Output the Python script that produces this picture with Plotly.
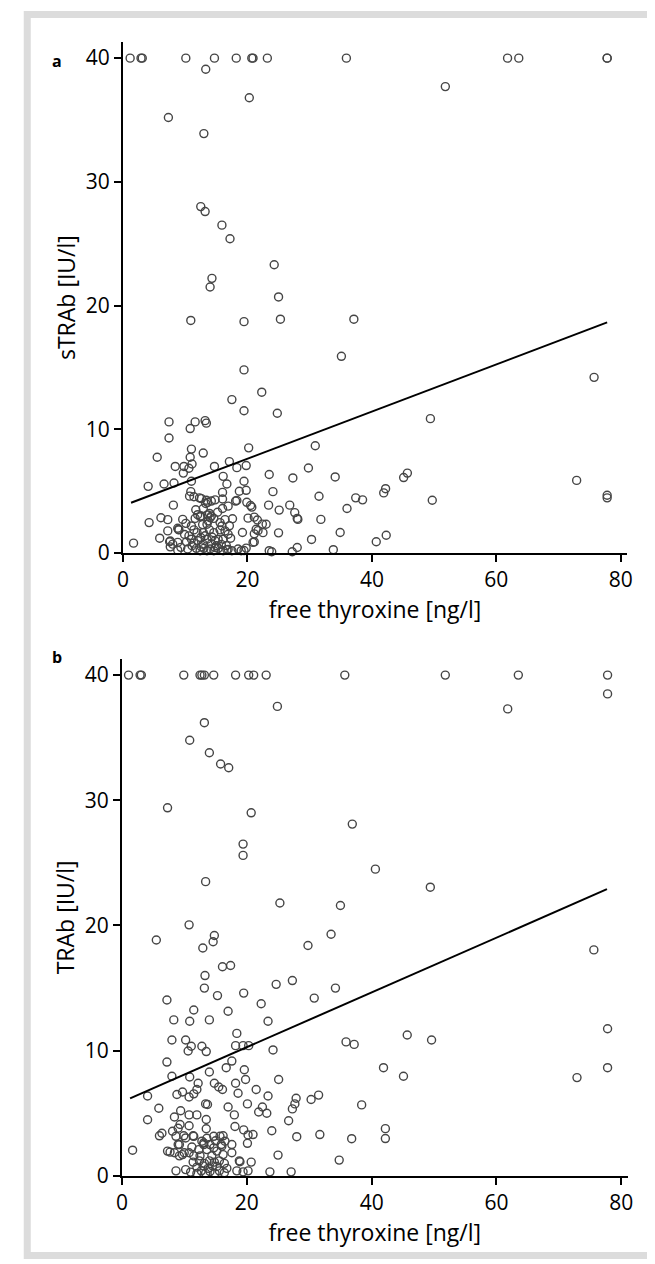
import plotly.graph_objects as go

W, H = 655, 1264

# ---------------- Panel a : sTRAb vs free thyroxine ----------------
a_x = [1.15, 2.9, 3.1, 10.1, 14.7, 18.2, 20.7, 20.9, 23.2, 35.9, 61.8, 63.6, 77.8, 77.8,
       13.3, 20.3, 7.3, 13.0, 51.8, 12.5, 13.2, 15.9, 17.2, 24.3, 14.3, 14.0, 25.0,
       10.9, 19.45, 25.3, 37.1, 35.1, 19.45, 22.3, 17.5, 19.45, 24.8, 7.4, 11.6, 13.2, 13.4, 10.8,
       7.4, 20.2, 30.9, 11.0, 12.9, 5.5, 10.8, 17.1, 8.4, 9.8, 11.1, 10.6, 14.7, 19.8, 18.3, 29.8,
       9.7, 23.5, 27.3, 34.1, 16.1, 16.7, 11.0, 19.45, 4.05, 6.6, 8.2, 19.8, 18.7, 24.1, 10.9,
       42.2, 41.9, 12.3, 13.4, 13.6, 14.8, 16.0, 18.1, 18.3, 19.9, 31.5, 37.4, 38.5, 23.4, 26.8,
       20.7, 25.1, 16.0, 8.1, 36.0, 27.6, 28.0, 28.1, 31.8, 6.1, 4.2, 9.6, 12.0, 12.5, 13.6, 14.0,
       20.1, 21.6, 22.4, 21.7, 21.1, 25.0, 19.2, 17.6, 30.3, 34.9, 40.7, 42.3, 1.7, 5.9, 8.9, 7.6,
       7.6, 8.8, 28.0, 27.2, 23.9, 33.8, 18.5, 19.45, 21.1, 16.7,
       49.4, 75.7, 45.7, 45.1, 49.7, 72.9, 77.8, 77.8,
       16.9, 20.5, 12.4, 13.9, 14.2, 15.6, 15.9, 13.5, 21.1, 7.2, 7.2, 9.0, 11.0, 11.4, 11.9, 12.9,
       13.9, 14.6, 15.6, 16.4, 16.9, 10.6, 11.0, 12.5, 13.5, 14.8, 16.1, 7.5, 8.0, 8.8, 9.3, 10.4,
       11.1, 11.8, 12.4, 13.0, 13.5, 14.0, 14.6, 15.3, 16.1, 16.9, 17.5, 19.0, 19.8, 23.5, 20.9,
       21.4, 22.5, 23.0, 11.4, 12.9, 14.2, 15.0, 12.0, 13.2, 14.3, 15.3, 10.2, 12.6, 14.8, 15.8,
       13.7, 12.8, 14.6, 15.2, 11.7, 12.9, 13.3, 14.2, 10.7, 11.4, 12.6, 16.0, 8.8, 10.1, 9.9,
       11.6, 16.4, 17.1, 17.3, 16.6]
a_y = [40, 40, 40, 40, 40, 40, 40, 40, 40, 40, 40, 40, 40, 40,
       39.1, 36.8, 35.2, 33.9, 37.7, 28.0, 27.6, 26.5, 25.4, 23.3, 22.2, 21.5, 20.7,
       18.8, 18.7, 18.9, 18.9, 15.9, 14.8, 13.0, 12.4, 11.5, 11.3, 10.6, 10.6, 10.7, 10.5, 10.06,
       9.3, 8.5, 8.67, 8.4, 8.08, 7.74, 7.74, 7.39, 7.0, 7.0, 7.2, 6.85, 7.0, 7.07, 6.9, 6.87,
       6.46, 6.35, 6.07, 6.15, 6.2, 5.58, 5.8, 5.8, 5.39, 5.58, 5.66, 5.07, 4.99, 4.96, 4.96,
       5.2, 4.86, 4.46, 4.27, 4.1, 4.3, 4.37, 4.2, 4.25, 4.1, 4.59, 4.46, 4.3, 3.87, 3.87,
       3.71, 3.47, 3.6, 3.87, 3.6, 3.27, 2.8, 2.72, 2.72, 2.85, 2.46, 2.72, 3.1, 2.99, 3.08, 2.85,
       2.82, 2.67, 2.34, 1.81, 1.55, 1.63, 1.66, 2.77, 1.1, 1.66, 0.91, 1.44, 0.8, 1.2, 1.9, 0.97,
       0.5, 0.23, 0.45, 0.1, 0.1, 0.27, 0.33, 0.2, 0.9, 0.27,
       10.86, 14.2, 6.46, 6.1, 4.27, 5.87, 4.67, 4.46,
       3.79, 3.84, 2.93, 3.2, 2.99, 2.46, 2.19, 2.33, 2.9, 2.7, 1.79, 1.87, 2.19, 1.87, 1.65, 1.65,
       1.87, 1.65, 1.87, 1.79, 1.52, 1.39, 1.12, 1.25, 1.12, 0.99, 1.12, 0.91, 0.72, 0.86, 0.46, 0.33,
       0.59, 0.38, 0.19, 0.38, 0.19, 0.33, 0.19, 0.38, 0.19, 0.3, 0.19, 0.19, 0.4, 0.19, 0.86,
       1.92, 1.65, 2.33, 0.8, 0.7, 0.75, 0.6, 1.0, 1.4, 1.3, 1.1, 0.9, 0.5, 0.45, 0.7,
       2.6, 2.3, 2.8, 3.3, 3.5, 3.6, 4.0, 4.2, 4.6, 4.55, 4.4, 4.9, 2.0, 2.4, 1.5,
       2.8, 2.7, 2.2, 1.2, 0.6]
a_fit_x = [1.3, 77.8]
a_fit_y = [4.06, 18.64]

# ---------------- Panel b : TRAb vs free thyroxine ----------------
b_x = [1.05, 2.9, 3.1, 9.9, 12.5, 12.8, 13.2, 14.7, 18.2, 20.3, 21.1, 23.1, 35.7, 51.8, 63.5, 77.8,
       77.8, 61.8, 24.9, 13.2, 10.85, 14.0, 15.8, 17.1, 7.3, 20.7, 36.9, 19.4, 19.4, 40.6, 13.4,
       49.4, 25.3, 35.0, 10.75, 5.5, 14.8, 14.6, 12.95, 29.8, 33.5, 75.6, 16.1, 17.4, 13.3, 27.3,
       24.7, 34.2, 13.2, 19.5, 15.3, 30.8, 7.2, 22.3, 11.5, 17.0, 8.3, 10.85, 14.0, 23.4, 18.4,
       45.7, 77.8, 49.6, 8.0, 10.2, 11.1, 12.8, 13.5, 10.6, 18.2, 19.4, 20.3, 35.9, 37.2, 24.2,
       7.2, 17.6, 16.7, 19.6, 41.9, 77.8, 72.9, 45.1, 8.0, 10.85, 14.0, 19.8, 18.2, 18.6, 25.1,
       14.8, 15.5, 16.1, 12.2, 12.0, 11.5, 10.75, 9.7, 8.8, 4.1, 21.5, 23.4, 31.5, 30.3, 27.9,
       27.7, 27.3, 13.4, 13.7, 20.1, 17.0, 22.5, 23.2, 21.9, 38.4, 5.9, 9.4, 10.75, 12.0, 18.0,
       4.1, 8.4, 9.3, 10.75, 9.0, 13.5, 13.5, 18.1, 19.5, 20.2, 21.0, 26.7, 24.0, 42.2, 42.2,
       36.8, 31.7, 28.0, 6.4, 6.0, 9.9, 11.4, 13.1, 16.2, 15.9, 20.1, 7.3, 7.7, 9.0, 9.7, 1.7,
       25.0, 18.9, 34.8, 8.65, 19.4, 23.7, 27.1,
       8.4, 9.2, 9.97, 10.75, 11.5, 10.2, 11.0, 12.0, 12.7, 13.4, 14.1, 14.9, 15.6, 16.4, 11.4,
       12.4, 13.2, 14.0, 14.8, 15.6, 16.4, 13.1, 13.6, 14.1, 14.7, 15.2, 16.0, 16.2, 13.6, 14.7,
       15.7, 16.5, 12.8, 11.5, 10.2, 9.2, 8.65, 8.1, 17.6, 17.6, 18.8, 20.7, 18.4, 20.2, 12.0,
       13.8, 15.2, 12.5, 14.4, 11.2, 12.3, 15.0, 13.0, 14.5, 16.8]
b_y = [40, 40, 40, 40, 40, 40, 40, 40, 40, 40, 40, 40, 40, 40, 40, 40,
       38.5, 37.3, 37.5, 36.2, 34.8, 33.8, 32.9, 32.6, 29.4, 29.0, 28.1, 26.5, 25.6, 24.5, 23.5,
       23.06, 21.8, 21.6, 20.05, 18.84, 19.2, 18.7, 18.2, 18.4, 19.3, 18.05, 16.7, 16.8, 16.0, 15.6,
       15.3, 15.0, 15.0, 14.6, 14.4, 14.2, 14.05, 13.75, 13.25, 13.15, 12.46, 12.35, 12.46, 12.35, 11.38,
       11.25, 11.75, 10.85, 10.85, 10.85, 10.35, 10.35, 9.93, 9.97, 10.4, 10.4, 10.4, 10.7, 10.5, 10.06,
       9.09, 9.17, 8.64, 8.48, 8.64, 8.64, 7.85, 7.96, 7.96, 7.9, 8.3, 7.7, 7.4, 6.6, 7.7,
       7.4, 7.1, 6.9, 7.4, 6.9, 6.55, 6.3, 6.7, 6.5, 6.38, 6.9, 6.38, 6.45, 6.1, 6.2,
       5.75, 5.35, 5.75, 5.7, 5.75, 5.5, 5.5, 5.0, 5.1, 5.67, 5.4, 5.2, 4.87, 4.87, 4.87,
       4.48, 4.7, 4.1, 4.0, 3.8, 4.5, 3.76, 3.94, 3.67, 3.27, 3.3, 4.4, 3.6, 3.77, 2.98,
       2.97, 3.3, 3.13, 3.4, 3.2, 3.2, 3.2, 2.63, 3.2, 2.5, 2.6, 1.98, 1.9, 2.5, 1.7, 2.05,
       1.66, 1.13, 1.26, 0.4, 0.32, 0.32, 0.32,
       1.85, 1.6, 1.85, 1.85, 1.6, 0.5, 0.3, 0.2, 0.4, 0.2, 0.35, 0.2, 0.4, 0.25, 1.1,
       1.2, 1.0, 1.2, 1.1, 1.2, 1.0, 2.5, 2.1, 2.5, 2.24, 1.98, 2.37, 1.7, 3.0, 3.16,
       3.16, 2.77, 2.77, 3.16, 3.03, 2.5, 3.16, 3.56, 2.5, 1.85, 1.2, 1.1, 0.4, 0.4, 0.7,
       0.6, 0.75, 1.6, 1.6, 2.3, 2.1, 2.8, 0.8, 0.8, 0.6]
b_fit_x = [1.3, 77.7]
b_fit_y = [6.19, 22.9]

x_ticks = [0, 20, 40, 60, 80]
y_ticks = [0, 10, 20, 30, 40]
x_title = "free thyroxine [ng/l]"
a_ytitle = "sTRAb [IU/l]"
b_ytitle = "TRAb [IU/l]"

FONT = "Open Sans"
marker = dict(symbol="circle-open", size=8, color="#454545", line=dict(width=1.4))

fig = go.Figure()
fig.add_trace(go.Scatter(x=a_x, y=a_y, mode="markers", marker=marker, xaxis="x", yaxis="y",
                         cliponaxis=False, showlegend=False, name="a"))
fig.add_trace(go.Scatter(x=a_fit_x, y=a_fit_y, mode="lines", line=dict(color="black", width=2),
                         xaxis="x", yaxis="y", showlegend=False, name="fit a"))
fig.add_trace(go.Scatter(x=b_x, y=b_y, mode="markers", marker=marker, xaxis="x2", yaxis="y2",
                         cliponaxis=False, showlegend=False, name="b"))
fig.add_trace(go.Scatter(x=b_fit_x, y=b_fit_y, mode="lines", line=dict(color="black", width=2),
                         xaxis="x2", yaxis="y2", showlegend=False, name="fit b"))


def xax(domain, anchor):
    return dict(domain=domain, anchor=anchor, range=[0, 81], tickvals=x_ticks,
                showline=True, linecolor="black", linewidth=2, ticks="outside",
                ticklen=7, tickwidth=2, tickcolor="black", showgrid=False, zeroline=False,
                tickfont=dict(family=FONT, size=21, color="black"),
                title=dict(text=x_title, font=dict(family=FONT, size=23, color="black"), standoff=2))


def yax(domain, anchor, title):
    return dict(domain=domain, anchor=anchor, range=[0, 41.3], tickvals=y_ticks,
                showline=True, linecolor="black", linewidth=2, ticks="outside",
                ticklen=7, tickwidth=2, tickcolor="black", showgrid=False, zeroline=False,
                tickfont=dict(family=FONT, size=21, color="black"),
                title=dict(text=title, font=dict(family=FONT, size=23, color="black"), standoff=4))


fig.update_layout(
    width=W, height=H, margin=dict(l=0, r=0, t=0, b=0),
    paper_bgcolor="white", plot_bgcolor="white",
    xaxis=xax([111 / W, 624.5 / W], "y"),
    yaxis=yax([1 - 550.7 / H, 1 - 34.4 / H], "x", a_ytitle),
    xaxis2=xax([110 / W, 625 / W], "y2"),
    yaxis2=yax([1 - 1180 / H, 1 - 657.6 / H], "x2", b_ytitle),
    shapes=[dict(type="rect", xref="paper", yref="paper", x0=13.5 / W, x1=651 / W,
                 y0=1 - 1260.5 / H, y1=1 - 6.5 / H, line=dict(color="#dcdcdc", width=7),
                 fillcolor="rgba(0,0,0,0)", layer="below")],
    annotations=[
        dict(text="<b>a</b>", x=37 / W, y=1 - 40 / H, xref="paper", yref="paper",
             showarrow=False, font=dict(family=FONT, size=16, color="black")),
        dict(text="<b>b</b>", x=37 / W, y=1 - 656 / H, xref="paper", yref="paper",
             showarrow=False, font=dict(family=FONT, size=16, color="black")),
    ],
)

fig.write_html("out.html")
